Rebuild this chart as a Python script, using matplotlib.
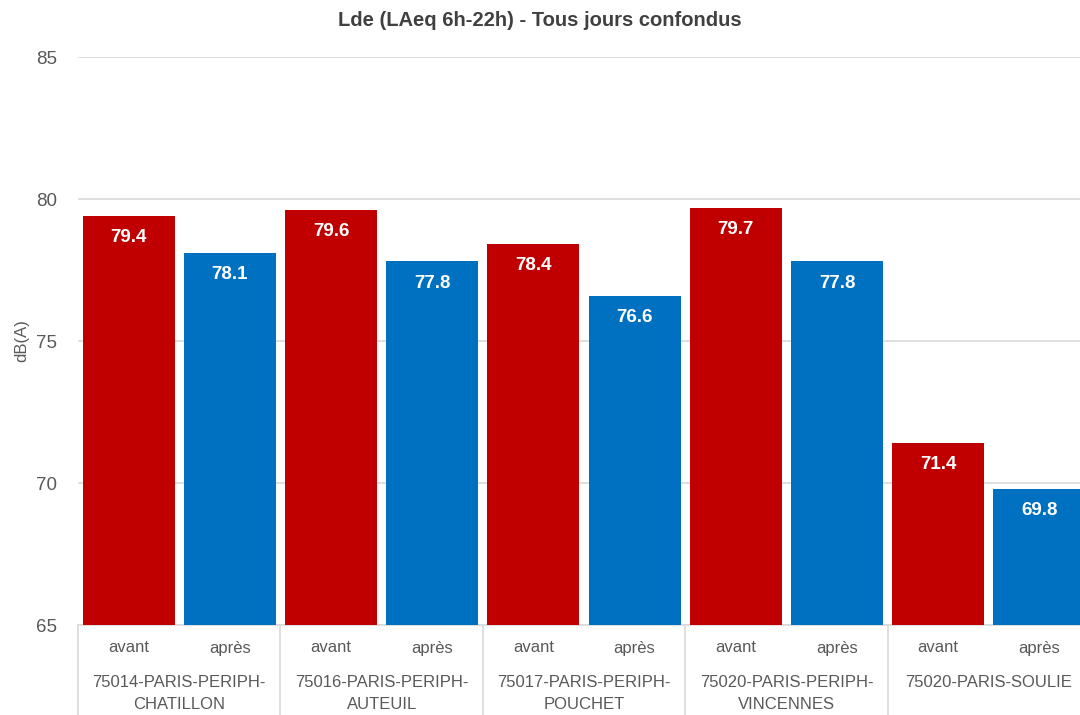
import matplotlib
matplotlib.use("Agg")
import matplotlib.pyplot as plt
from matplotlib import font_manager
from matplotlib.transforms import blended_transform_factory

sites = ["75014-PARIS-PERIPH-\nCHATILLON", "75016-PARIS-PERIPH-\nAUTEUIL",
         "75017-PARIS-PERIPH-\nPOUCHET", "75020-PARIS-PERIPH-\nVINCENNES",
         "75020-PARIS-SOULIE"]
periods = ["avant", "après"]
avant = [79.4, 79.6, 78.4, 79.7, 71.4]
apres = [78.1, 77.8, 76.6, 77.8, 69.8]
yticks = [65, 70, 75, 80, 85]

names = {f.name for f in font_manager.fontManager.ttflist}
narrow = "Liberation Sans Narrow" if "Liberation Sans Narrow" in names else "Liberation Sans"

red = "#C00000"
blue = "#0070C0"
gray = "#595959"
lgray = "#D9D9D9"

fig = plt.figure(figsize=(10.8, 7.15), dpi=100)
ax = fig.add_axes([78/1080, 90/715, 1012/1080, 568/715])

values = []
colors = []
for a, b in zip(avant, apres):
    values += [a, b]
    colors += [red, blue]
xs = list(range(len(values)))
ax.bar(xs, values, width=0.91, color=colors, bottom=0, zorder=3)
ax.set_ylim(65, 85)
ax.set_xlim(-0.5, len(values) - 0.5)
ax.set_yticks(yticks)
ax.set_yticklabels([str(t) for t in yticks], fontsize=13.5, color=gray, family=narrow)
ax.tick_params(axis="y", length=0, pad=15)
ax.set_xticks([])
ax.grid(axis="y", color=lgray, linewidth=1.2, zorder=0)
for s in ["top", "right", "left"]:
    ax.spines[s].set_visible(False)
ax.spines["bottom"].set_color(lgray)
ax.spines["bottom"].set_linewidth(1.2)

for x, v in zip(xs, values):
    ax.annotate(f"{v:.1f}", (x, v), xytext=(0, -15.5), textcoords="offset points",
                ha="center", va="center", color="white", fontsize=13.5,
                fontweight="bold", family="Liberation Sans", zorder=4)

trans = blended_transform_factory(ax.transData, ax.transAxes)
for x in xs:
    ax.text(x, -23/568, periods[x % 2], transform=trans, ha="center", va="center",
            fontsize=12, color=gray, family=narrow)
for g, name in enumerate(sites):
    cx = 2 * g + 0.5
    ax.text(cx, -50/568, name, transform=trans, ha="center", va="top",
            fontsize=12, color=gray, family=narrow, linespacing=1.6)
for g in range(len(sites) + 1):
    bx = 2 * g - 0.5
    ax.plot([bx, bx], [0, -90/568], transform=trans, color=lgray, lw=1.2,
            clip_on=False)

ax.set_ylabel("dB(A)", fontsize=12, color=gray, family=narrow, labelpad=5)
fig.text(0.5, 1 - 20/715, "Lde (LAeq 6h-22h) - Tous jours confondus", ha="center",
         va="center", fontsize=14.5, fontweight="bold", color="#404040", family=narrow)

fig.savefig("out.png", dpi=100)
